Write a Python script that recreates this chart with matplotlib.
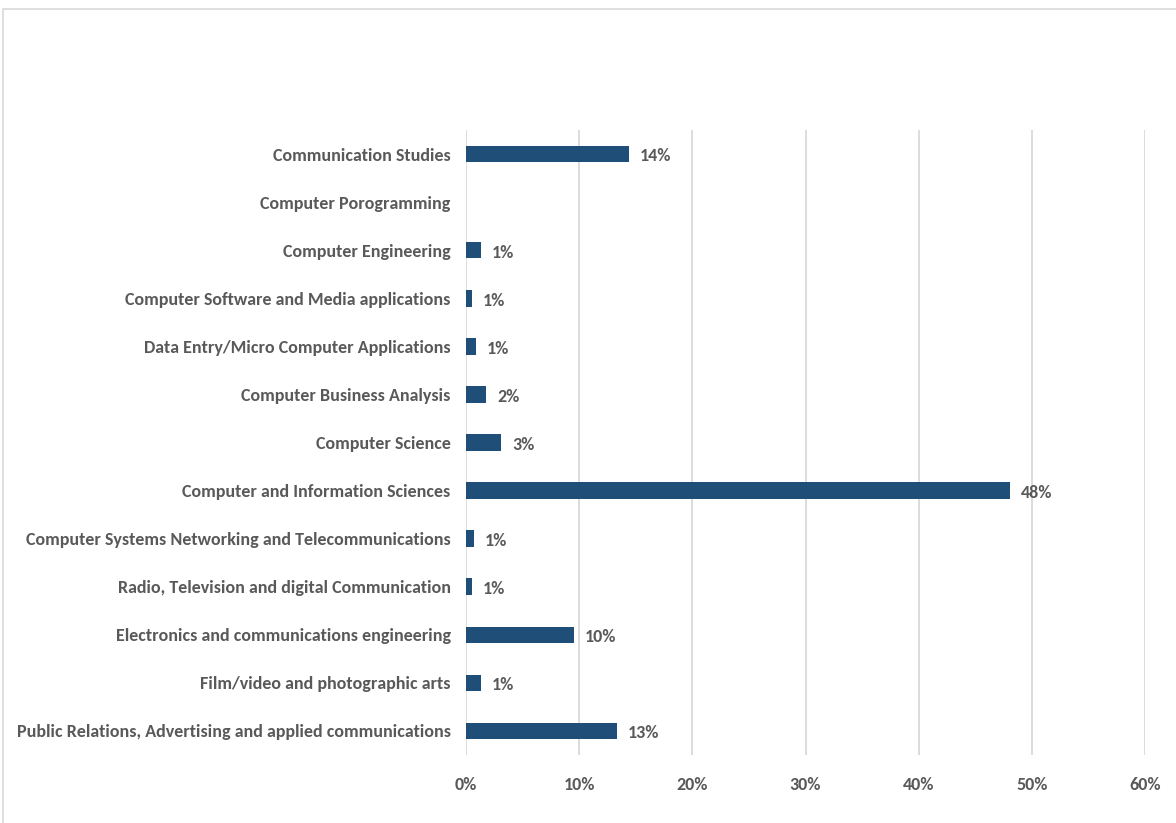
import matplotlib
import matplotlib.pyplot as plt
from matplotlib.patches import Rectangle

# Carlito is metric-compatible with Calibri (the Excel default)
matplotlib.rcParams['font.family'] = ['Carlito', 'Liberation Sans', 'DejaVu Sans']

# ——— Data ————————————————————————————————————————————————————————————————
categories = [
    'Communication Studies',
    'Computer Porogramming',
    'Computer Engineering',
    'Computer Software and Media applications',
    'Data Entry/Micro Computer Applications',
    'Computer Business Analysis',
    'Computer Science',
    'Computer and Information Sciences',
    'Computer Systems Networking and Telecommunications',
    'Radio, Television and digital Communication',
    'Electronics and communications engineering',
    'Film/video and photographic arts',
    'Public Relations, Advertising and applied communications',
]
values = [14.4, 0.0, 1.3, 0.5, 0.9, 1.8, 3.1, 48.1, 0.7, 0.5, 9.5, 1.3, 13.3]
value_labels = ['14%', '', '1%', '1%', '1%', '2%', '3%', '48%', '1%', '1%', '10%', '1%', '13%']
x_ticks = [0, 10, 20, 30, 40, 50, 60]

BAR = '#1F4E79'
TEXT = '#595959'
GRID = '#D9D9D9'
FS = 13

fig = plt.figure(figsize=(11.76, 8.23), dpi=100)
fig.patch.set_facecolor('white')

# outer chart frame (Excel-style border)
fig.patches.append(Rectangle((3 / 1176, -0.05), 1.2, (823 - 9) / 823 + 0.05,
                             transform=fig.transFigure, fill=False,
                             edgecolor=GRID, linewidth=1.2))

ax = fig.add_axes([466 / 1176, 1 - 755 / 823, (1145 - 466) / 1176, (755 - 130) / 823])
ypos = list(range(len(categories)))
ax.barh(ypos, values, height=0.345, color=BAR, zorder=3)

for y, v, lab in zip(ypos, values, value_labels):
    if lab:
        ax.text(v + 0.95, y + 0.05, lab, va='center', ha='left', fontsize=FS,
                fontweight='bold', color=TEXT, zorder=4)

ax.set_xlim(0, 60)
ax.set_ylim(len(categories) - 0.5, -0.5)
ax.set_xticks(x_ticks)
ax.set_xticklabels([f'{t}%' for t in x_ticks])
ax.set_yticks(ypos)
ax.set_yticklabels(categories)
ax.tick_params(axis='both', length=0, labelsize=FS, labelcolor=TEXT)
ax.tick_params(axis='x', pad=16)
ax.tick_params(axis='y', pad=11)
for lab in ax.get_xticklabels() + ax.get_yticklabels():
    lab.set_fontweight('bold')

ax.grid(axis='x', color=GRID, linewidth=1.3, zorder=0)
ax.set_axisbelow(True)
for side in ('top', 'right', 'bottom', 'left'):
    ax.spines[side].set_visible(False)

fig.savefig('out.png', dpi=100, facecolor='white')
